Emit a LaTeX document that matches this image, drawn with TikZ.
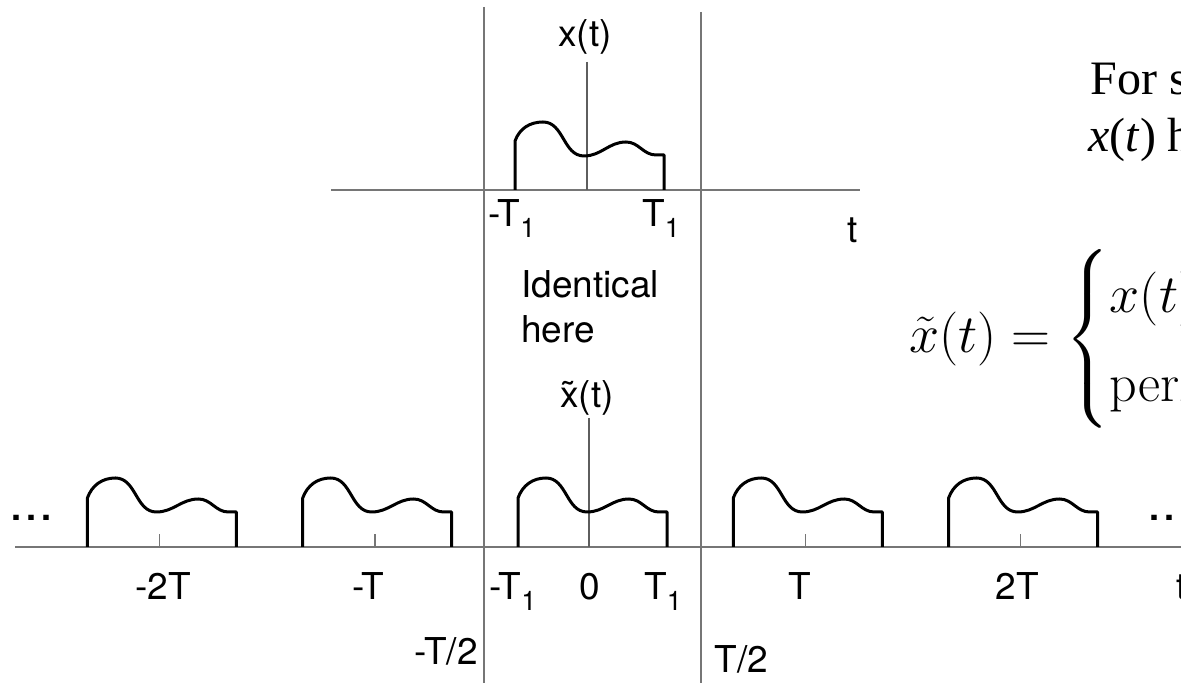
\RequirePackage{fix-cm}
\documentclass[tikz,border=0pt]{standalone}
\usepackage{amsmath}
\usepackage{fontspec}
\newfontfamily\helv{TeX Gyre Heros}
\newfontfamily\tms{Liberation Serif}
\definecolor{axisgray}{RGB}{118,118,118}
\newcommand\lowsub[1]{\raisebox{-0.28em}{\fontsize{13.5}{16}\selectfont #1}}
\tikzset{
  axisline/.style={draw=axisgray, line width=1.1pt},
  thinaxis/.style={draw=axisgray!80!black, line width=0.7pt},
  tickline/.style={draw=axisgray, line width=0.8pt},
  pulseline/.style={draw=black, line width=1.5pt, line join=round},
  lab/.style={font=\helv\fontsize{18.5}{22}\selectfont, inner sep=0pt, anchor=base},
  serif/.style={font=\tms\fontsize{24}{28}\selectfont, inner sep=0pt, anchor=base west},
  dotsl/.style={font=\helv\fontsize{18}{22}\selectfont\bfseries, inner sep=0pt, anchor=base west}
}
\begin{document}
\begin{tikzpicture}[x=0.5pt,y=0.5pt]
\useasboundingbox (0,0) rectangle (1181,683);
\clip (0,0) rectangle (1181,683);
% vertical separators
\draw[axisline] (484,676) -- (484,0);
\draw[axisline] (701,671) -- (701,0);
% top plot
\draw[axisline] (331,493) -- (860,493);
\draw[thinaxis] (587,621) -- (587,493);
\def\b{493}\def\t{587}
\draw[pulseline] (\t-72,\b) -- (\t-72,\b+49) to[out=70,in=180] (\t-44,\b+68) to[out=0,in=180] (\t-3,\b+34) to[out=0,in=180] (\t+39,\b+48) to[out=0,in=180] (\t+69,\b+35) -- (\t+77,\b+35) -- (\t+77,\b);
\node[lab] (xt) at (585,636) {x(t)};
\node[lab] (mT1top) at (512,456) {-T\lowsub{1}};
\node[lab] (T1top) at (661,456) {T\lowsub{1}};
\node[lab] (ttop) at (853,440) {t};
\node[lab, anchor=base west] (ident) at (521,385) {Identical};
\node[lab, anchor=base west] (here) at (521,340) {here};
% bottom plot
\draw[axisline] (15,136) -- (1181,136);
\draw[thinaxis] (589,265) -- (589,136);
\node[lab] (xtt) at (587,275) {\~{x}(t)};
\def\b{136}
\foreach \t in {159.4,374.7,590,805.3,1020.6}{
  \draw[pulseline] (\t-72,\b) -- (\t-72,\b+49) to[out=70,in=180] (\t-44,\b+69) to[out=0,in=180] (\t-3,\b+35) to[out=0,in=180] (\t+39,\b+48) to[out=0,in=180] (\t+69,\b+35) -- (\t+77,\b+35) -- (\t+77,\b);
}
\foreach \t in {159.4,374.7,805.3,1020.6}{
  \draw[tickline] (\t,\b) -- (\t,\b+13);
}
\node[dotsl] (dl) at (11,162) {.\kern2.5pt.\kern2.5pt.};
\node[dotsl] (dr) at (1149,162) {.\kern2.5pt.\kern2.5pt.};
\node[lab] (l2T) at (163,83) {-2T};
\node[lab] (lT) at (368,83) {-T};
\node[lab] (lmT1) at (513,83) {-T\lowsub{1}};
\node[lab] (l0) at (590,83) {0};
\node[lab] (lT1) at (663,83) {T\lowsub{1}};
\node[lab] (lpT) at (800,83) {T};
\node[lab] (lp2T) at (1017,83) {2T};
\node[lab, anchor=base west] (lt) at (1176,83) {t};
\node[lab, anchor=base east] (mhalf) at (478,18) {-T/2};
\node[lab, anchor=base west] (phalf) at (714,10) {T/2};
% right-hand text
\node[serif] (for) at (1090,588) {For simplicity, suppose};
\node[serif] (xth) at (1088,531) {\textit{x}(\textit{t}) has finite duration};
\node[anchor=west, inner sep=0pt] (eq) at (909,344) {\fontsize{27}{37}\selectfont $\tilde{x}(t) = \begin{cases} x(t) & |t|<T/2\\ \text{periodic with period } T \end{cases}$};
\end{tikzpicture}
\end{document}
